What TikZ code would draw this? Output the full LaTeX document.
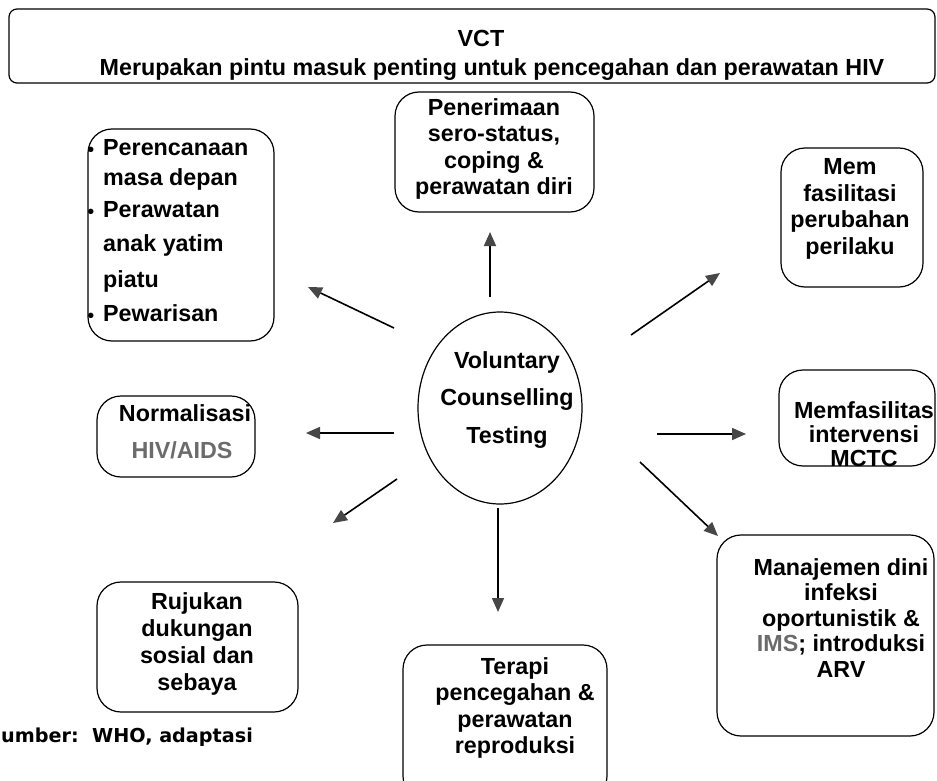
\documentclass[tikz,border=0pt]{standalone}
\usepackage{fontspec}
\setmainfont{Liberation Sans}
\newfontfamily\srcfont{DejaVu Sans}
\usetikzlibrary{arrows.meta,shapes.geometric}

\definecolor{arrowgray}{gray}{0.28}
\definecolor{softgray}{gray}{0.42}

\begin{document}
\begin{tikzpicture}[x=1pt,y=-1pt,
  every node/.style={font=\fontsize{23.3}{26.5}\selectfont\bfseries, inner sep=0pt},
  frame/.style={draw, line width=1.2pt, rounded corners=24pt},
  hub/.style={draw, ellipse, line width=1.2pt},
  txt/.style={align=center},
  item/.style={anchor=base west},
  dot/.style={anchor=base, font=\fontsize{20}{20}\selectfont},
  ray/.style={line width=1.6pt, -{Triangle[length=14pt,width=12pt,color=arrowgray]}},
]
\useasboundingbox (0,0) rectangle (937,781);

% title banner
\node[frame, rounded corners=8pt, minimum width=926pt, minimum height=74pt] (banner) at (472,46) {};
\node (vct) at (481,38) {VCT};
\node (gate) at (492,70) {Merupakan pintu masuk penting untuk pencegahan dan perawatan HIV};

% central ellipse
\node[hub, minimum width=164pt, minimum height=192pt] (hub) at (500,408) {};
\node[txt, font=\fontsize{23.3}{37.5}\selectfont\bfseries] (hubtext) at (507,400) {Voluntary\\Counselling\\Testing};

% surrounding boxes
\node[frame, minimum width=186pt, minimum height=212pt] (plan) at (181,235) {};
\node[dot] (b1) at (91,157) {•};
\node[dot] (b2) at (91,218) {•};
\node[dot] (b3) at (91,322) {•};
\node[item] (p1) at (103,156) {Perencanaan};
\node[item] (p2) at (103,185) {masa depan};
\node[item] (p3) at (103,217) {Perawatan};
\node[item] (p4) at (103,251) {anak yatim};
\node[item] (p5) at (103,287) {piatu};
\node[item] (p6) at (103,321) {Pewarisan};

\node[frame, minimum width=199pt, minimum height=120pt] (accept) at (494.5,152) {};
\node[txt] (accepttext) at (494,149) {Penerimaan\\sero-status,\\coping \&\\perawatan diri};

\node[frame, minimum width=142pt, minimum height=139pt] (behav) at (852,217.5) {};
\node[txt] (behavtext) at (850,209) {Mem\\fasilitasi\\perubahan\\perilaku};

\node[frame, minimum width=158pt, minimum height=81pt] (norm) at (176,436.5) {};
\node (normtext) at (185,413) {Normalisasi};
\node[text=softgray] (hivaids) at (182,450) {HIV/AIDS};

\node[frame, minimum width=156pt, minimum height=96pt] (mctc) at (857,418) {};
\node[txt, font=\fontsize{23.3}{24}\selectfont\bfseries] (mctctext) at (864,434) {Memfasilitas\\intervensi\\MCTC};

\node[frame, minimum width=217pt, minimum height=201pt] (mgmt) at (825.5,635.5) {};
\node[txt, font=\fontsize{23.3}{25.5}\selectfont\bfseries] (mgmttext) at (841,618) {Manajemen dini\\infeksi\\oportunistik \&\\\textcolor{softgray}{IMS}; introduksi\\ARV};

\node[frame, minimum width=201pt, minimum height=130pt] (refer) at (197.5,647) {};
\node[txt, font=\fontsize{23.3}{27}\selectfont\bfseries] (refertext) at (197,644) {Rujukan\\dukungan\\sosial dan\\sebaya};

\node[frame, minimum width=204pt, minimum height=155pt] (repro) at (505,722.5) {};
\node[txt] (reprotext) at (515,708) {Terapi\\pencegahan \&\\perawatan\\reproduksi};

% source line
\node[anchor=base west, font=\srcfont\bfseries\fontsize{19.2}{21}\selectfont] (source) at (1,742) {umber:\ \ WHO, adaptasi};

% arrow end points
\coordinate (upS) at (490,297);   \coordinate (upE) at (490,232);
\coordinate (ulS) at (394,328);   \coordinate (ulE) at (308,287);
\coordinate (lfS) at (394,433);   \coordinate (lfE) at (306,433);
\coordinate (urS) at (631,335);   \coordinate (urE) at (720,273);
\coordinate (rtS) at (657,434);   \coordinate (rtE) at (746,434);
\coordinate (lrS) at (640,462);   \coordinate (lrE) at (718,536);
\coordinate (dnS) at (498,508);   \coordinate (dnE) at (498,612);
\coordinate (llS) at (397,479);   \coordinate (llE) at (333,523);

\draw[ray] (upS) -- (upE);
\draw[ray] (ulS) -- (ulE);
\draw[ray] (lfS) -- (lfE);
\draw[ray] (urS) -- (urE);
\draw[ray] (rtS) -- (rtE);
\draw[ray] (lrS) -- (lrE);
\draw[ray] (dnS) -- (dnE);
\draw[ray] (llS) -- (llE);
\end{tikzpicture}
\end{document}
